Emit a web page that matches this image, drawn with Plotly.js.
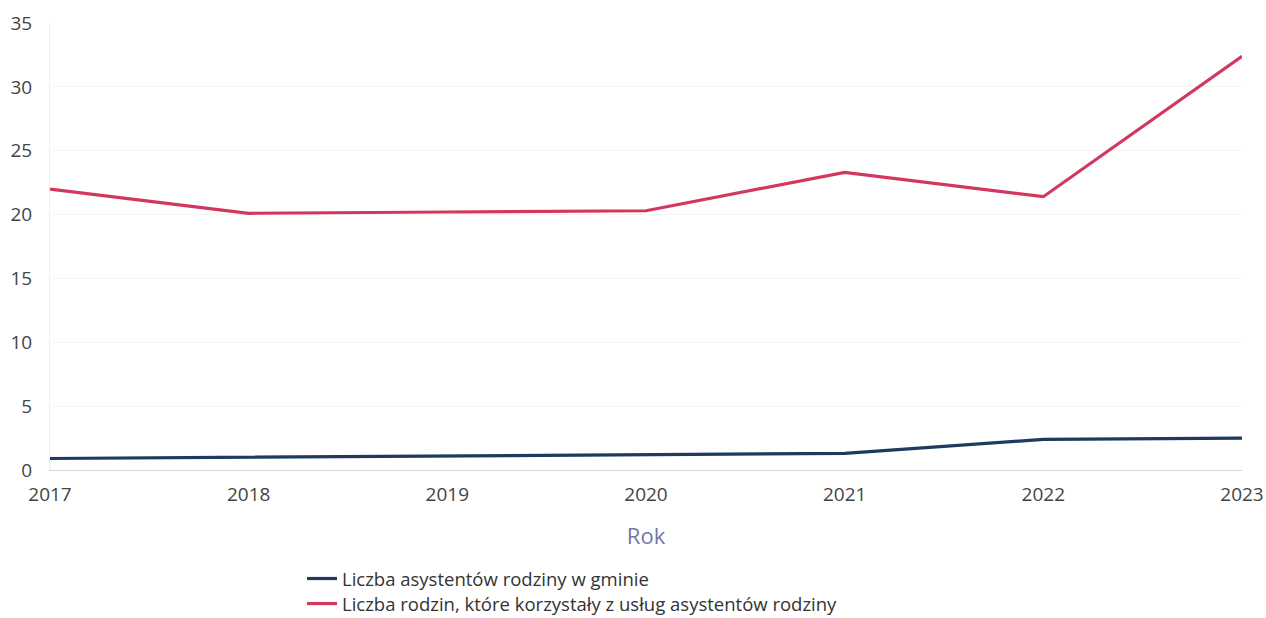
<!DOCTYPE html>
<html>
<head>
<meta charset="utf-8">
<script src="https://cdn.plot.ly/plotly-3.0.1.min.js"></script>
<style>
  html, body { margin: 0; padding: 0; background: #ffffff; }
  #chart { width: 1266px; height: 618px; }
</style>
</head>
<body>
<div id="chart"></div>
<script>
const years = [2017, 2018, 2019, 2020, 2021, 2022, 2023];
const assistants = [0.9, 1.0, 1.1, 1.2, 1.3, 2.4, 2.5];
const families = [22.0, 20.1, 20.2, 20.3, 23.3, 21.4, 32.4];
const seriesNames = [
  'Liczba asystentów rodziny w gminie',
  'Liczba rodzin, które korzystały z usług asystentów rodziny'
];
const yTicks = [0, 5, 10, 15, 20, 25, 30, 35];
const xTitle = 'Rok';

const traces = [
  { x: years, y: assistants, name: seriesNames[0], type: 'scatter', mode: 'lines',
    line: { color: '#1d3a5f', width: 3.2 }, legend: 'legend' },
  { x: years, y: families, name: seriesNames[1], type: 'scatter', mode: 'lines',
    line: { color: '#d4375d', width: 3.2 }, legend: 'legend2' }
];

const legendCommon = {
  orientation: 'v', x: 0.2114, xanchor: 'left', yanchor: 'middle',
  font: { family: 'Open Sans, sans-serif', size: 18.5, color: '#333333' },
  itemwidth: 30, bgcolor: 'rgba(0,0,0,0)', borderwidth: 0
};

const layout = {
  width: 1266, height: 618,
  margin: { l: 50, r: 24, t: 23, b: 148, autoexpand: false },
  paper_bgcolor: '#ffffff', plot_bgcolor: '#ffffff',
  font: { family: 'Open Sans, sans-serif', size: 19, color: '#444444' },
  showlegend: true,
  legend: Object.assign({}, legendCommon, { y: -0.2438 }),
  legend2: Object.assign({}, legendCommon, { y: -0.2998 }),
  xaxis: {
    range: [2017, 2023], tickvals: years, ticktext: years.map(String),
    showgrid: false, zeroline: false, showline: true, linecolor: '#d4d4d4', linewidth: 1,
    ticks: 'outside', ticklen: 7, tickcolor: 'rgba(0,0,0,0)',
    tickfont: { size: 19, color: '#444444' },
    title: { text: xTitle, font: { size: 22, color: '#7276ad' }, standoff: 22 }
  },
  yaxis: {
    range: [0, 35], tickvals: yTicks, ticktext: yTicks.map(String),
    showgrid: true, gridcolor: '#f4f4f4', gridwidth: 1,
    zeroline: false, showline: true, linecolor: '#f0f0f0',
    ticks: '', ticklabelstandoff: 13, tickfont: { size: 19, color: '#444444' }
  }
};

Plotly.newPlot('chart', traces, layout, { displayModeBar: false, staticPlot: true });
</script>
</body>
</html>
